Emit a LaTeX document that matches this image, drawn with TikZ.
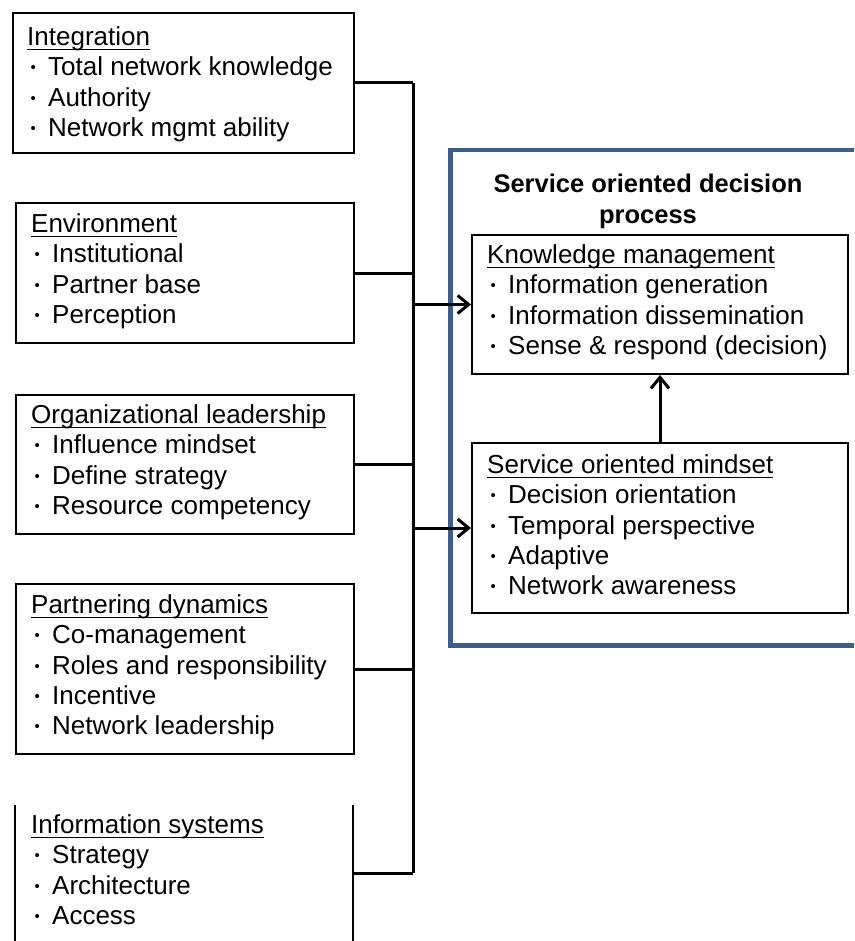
\documentclass[tikz,border=0pt]{standalone}
\usepackage{fontspec}
\setmainfont{Liberation Sans}
\usetikzlibrary{arrows.meta}
\definecolor{frameblue}{RGB}{59,94,140}
\newsavebox\hdrbox
% underlined heading of a box
\newcommand\hdrline[1]{\sbox\hdrbox{#1}\rlap{\rule[-5pt]{\wd\hdrbox}{1.6pt}}\usebox\hdrbox}
% bullet item prefix (small dot)
\newcommand\itm{\makebox[21pt][l]{\hspace{3.5pt}\raisebox{3pt}{\fontsize{15}{15}\selectfont\textbullet}}}
\tikzset{
  box/.style={draw=black, line width=2pt, anchor=north west, inner sep=0pt},
  txt/.style={anchor=north west, inner sep=0pt, align=left,
              font=\fontsize{26}{30.3}\selectfont},
  conn/.style={line width=3pt},
  arr/.style={line width=3pt, -{Straight Barb[length=11pt,width=18pt]}},
  ttl/.style={anchor=north, inner sep=0pt, align=center,
              font=\fontsize{25.5}{31.5}\selectfont\bfseries}
}
\begin{document}
\begin{tikzpicture}[x=1pt,y=-1pt]
\useasboundingbox (0,0) rectangle (854,941);
\clip (0,0) rectangle (854,941);

% left column of factor boxes
\node[box, minimum width=341pt, minimum height=140pt] (integ) at (12,12) {};
\node[box, minimum width=338pt, minimum height=140pt] (envir) at (15,202) {};
\node[box, minimum width=338pt, minimum height=139pt] (orglead) at (15,394) {};
\node[box, minimum width=338pt, minimum height=170pt] (partner) at (15,583) {};
\node[anchor=north west, inner sep=0pt, minimum width=338pt, minimum height=136pt] (infosys) at (15,805) {};
\draw[line width=2pt] (infosys.north west) -- (infosys.south west)
                      (infosys.north east) -- (infosys.south east);

\node[txt] (integ-t) at (27,26.4) {\hdrline{Integration}\\
  \itm Total network knowledge\\ \itm Authority\\ \itm Network mgmt ability};
\node[txt] (envir-t) at (31,213.4) {\hdrline{Environment}\\
  \itm Institutional\\ \itm Partner base\\ \itm Perception};
\node[txt] (orglead-t) at (31,404.4) {\hdrline{Organizational leadership}\\
  \itm Influence mindset\\ \itm Define strategy\\ \itm Resource competency};
\node[txt] (partner-t) at (31,594.4) {\hdrline{Partnering dynamics}\\
  \itm Co-management\\ \itm Roles and responsibility\\ \itm Incentive\\ \itm Network leadership};
\node[txt] (infosys-t) at (31,814.4) {\hdrline{Information systems}\\
  \itm Strategy\\ \itm Architecture\\ \itm Access};

% decision process frame
\node[draw=frameblue, line width=4.5pt, anchor=north west, inner sep=0pt,
      minimum width=440pt, minimum height=495pt] (soproc) at (448,148) {};
\node[ttl] (title) at (648,173.5) {Service oriented decision\\process};

\node[box, minimum width=376pt, minimum height=139pt] (km) at (471,234) {};
\node[box, minimum width=376pt, minimum height=170pt] (som) at (471,442) {};
\node[txt] (km-t) at (487,244.4) {\hdrline{Knowledge management}\\
  \itm Information generation\\ \itm Information dissemination\\ \itm Sense \& respond (decision)};
\node[txt] (som-t) at (487,454.4) {\hdrline{Service oriented mindset}\\
  \itm Decision orientation\\ \itm Temporal perspective\\ \itm Adaptive\\ \itm Network awareness};

% collecting bus and arrows
\coordinate (busx) at (413,0);
\draw[conn] (integ.east) -- (integ.east -| busx);
\draw[conn] (envir.east) -- (envir.east -| busx);
\draw[conn] (orglead.east) -- (orglead.east -| busx);
\draw[conn] (partner.east) -- (partner.east -| busx);
\draw[conn] (infosys.east) -- (infosys.east -| busx);
\draw[conn] (integ.east -| busx) -- (infosys.east -| busx);
\draw[arr] (km.west -| busx) -- (km.west);
\draw[arr] (som.west -| busx) -- (som.west);
\draw[arr] (som.north) -- (km.south);
\end{tikzpicture}
\end{document}
